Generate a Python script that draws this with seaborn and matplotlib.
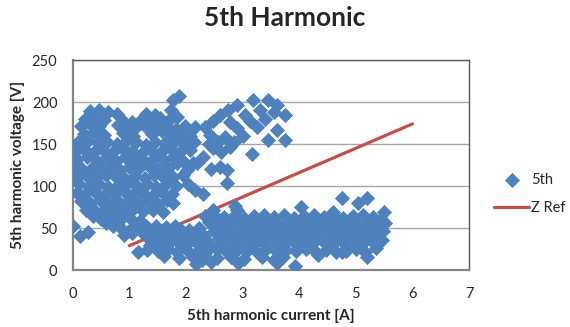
import matplotlib
matplotlib.use("Agg")
import pandas as pd
import seaborn as sns
import matplotlib.pyplot as plt

sns.set_style("white")
plt.rcParams['font.family'] = ['Lato', 'DejaVu Sans']

# (current [A], voltage [V]), grouped by cluster
# big cloud at low current / high voltage
blob_points = [
    (0.30, 189), (0.46, 191), (0.62, 188), (0.78, 186), (1.30, 186), (1.45, 184), (1.74, 191),
    (0.22, 180), (0.38, 182), (0.55, 179), (0.88, 178), (1.05, 176), (1.22, 180), (1.38, 177),
    (1.55, 181), (1.70, 179), (1.85, 182),
    (0.14, 172), (0.30, 174), (0.47, 171), (0.80, 173), (0.97, 170), (1.14, 172), (1.31, 169),
    (1.48, 173), (1.65, 171), (1.82, 168), (1.99, 172), (2.16, 170),
    (0.20, 162), (0.38, 164), (0.55, 161), (0.89, 163), (1.06, 160), (1.40, 162), (1.57, 165),
    (1.74, 161), (1.91, 163), (2.08, 160),
    (0.10, 152), (0.27, 154), (0.44, 151), (0.61, 153), (0.78, 150), (0.95, 154), (1.12, 152),
    (1.29, 149), (1.46, 153), (1.63, 151), (1.80, 154), (1.97, 150), (2.14, 153),
    (0.06, 142), (0.20, 144), (0.37, 141), (0.54, 143), (0.71, 140), (0.88, 144), (1.05, 142),
    (1.22, 139), (1.39, 143), (1.56, 141), (1.73, 144), (1.90, 140), (2.07, 143),
    (0.08, 132), (0.25, 134), (0.42, 131), (0.59, 133), (0.76, 130), (0.93, 134), (1.10, 132),
    (1.27, 129), (1.44, 133), (1.61, 131), (1.78, 134), (1.95, 130),
    (0.00, 124), (0.15, 122), (0.32, 120), (0.49, 123), (0.66, 121), (0.83, 119), (1.00, 123),
    (1.17, 121), (1.34, 124), (1.51, 120), (1.68, 122), (1.85, 127), (2.02, 119),
    (0.00, 113), (0.08, 110), (0.25, 112), (0.42, 109), (0.59, 113), (0.76, 111), (0.93, 108),
    (1.10, 112), (1.27, 110), (1.44, 113), (1.61, 109), (1.78, 111), (1.95, 113),
    (0.12, 102), (0.29, 100), (0.46, 103), (0.63, 99), (0.80, 101), (0.97, 104), (1.14, 100),
    (1.31, 102), (1.48, 99), (1.65, 103), (1.82, 100),
    (0.08, 92), (0.22, 90), (0.39, 93), (0.56, 89), (0.73, 91), (0.90, 94), (1.07, 90),
    (1.24, 92), (1.41, 89), (1.58, 93), (1.75, 90),
    (0.14, 82), (0.31, 80), (0.48, 83), (0.65, 79), (0.82, 81), (0.99, 84), (1.16, 80),
    (1.33, 82), (1.50, 79), (1.67, 83), (1.78, 80),
    (0.24, 72), (0.40, 70), (0.57, 73), (0.74, 69), (0.91, 71), (1.08, 74), (1.25, 70),
    (1.42, 72), (1.60, 69),
    (0.36, 64), (0.50, 61), (0.67, 63), (0.84, 60), (1.01, 62), (1.18, 59),
    (0.00, 52), (0.58, 56), (0.72, 52), (0.88, 48), (1.04, 50), (1.20, 52),
    (0.13, 40), (0.27, 45), (0.90, 42), (1.05, 44),
]

# diagonal strand going up to the right
strand_points = [
    (1.77, 202), (1.87, 207), (2.60, 185), (2.48, 178), (2.43, 161), (2.69, 158), (2.90, 169),
    (2.90, 196), (3.05, 185), (3.13, 178), (3.19, 202), (3.30, 190), (3.40, 180), (3.45, 202),
    (3.55, 188), (3.61, 196), (3.75, 185), (3.61, 167), (3.45, 155), (3.75, 155), (3.25, 170),
    (3.17, 138), (2.78, 176), (3.00, 160), (2.30, 135), (2.48, 145), (2.62, 140), (2.78, 146),
    (2.85, 152), (2.20, 127), (2.60, 123), (2.73, 119), (2.73, 104), (2.56, 152), (2.40, 150),
    (2.33, 170), (2.13, 127), (2.04, 103), (2.16, 95), (2.31, 91), (2.45, 120), (2.75, 190),
]

# low voltage band spread along the current axis
band_points = [
    (2.48, 71), (2.90, 71), (2.87, 76), (4.03, 75), (4.60, 69), (4.76, 86), (5.04, 80),
    (5.20, 86), (5.49, 69),
    (2.33, 64), (2.50, 66), (2.68, 63), (2.86, 65), (3.02, 62), (3.21, 64), (3.38, 66),
    (3.56, 63), (3.73, 65), (3.90, 62), (4.08, 64), (4.26, 66), (4.43, 63), (4.60, 65),
    (4.78, 62), (4.95, 64), (5.13, 66), (5.30, 63), (5.44, 61),
    (1.30, 52), (1.47, 53), (1.64, 51), (1.81, 52), (2.41, 57), (2.59, 55), (2.77, 56),
    (2.94, 58), (3.12, 55), (3.29, 57), (3.47, 56), (3.64, 54), (3.82, 57), (3.99, 55),
    (4.17, 58), (4.34, 56), (4.52, 55), (4.69, 57), (4.87, 56), (5.04, 54), (5.22, 57),
    (5.39, 55), (5.52, 56),
    (1.20, 46), (1.37, 48), (1.55, 45), (1.72, 47), (1.89, 49), (2.06, 48), (2.23, 50),
    (2.50, 47), (2.68, 49), (2.85, 46), (3.03, 48), (3.20, 50), (3.38, 47), (3.55, 49),
    (3.73, 46), (3.91, 48), (4.08, 50), (4.25, 47), (4.43, 49), (4.61, 46), (4.78, 48),
    (4.96, 50), (5.13, 47), (5.31, 49), (5.48, 46),
    (1.29, 41), (1.46, 38), (1.63, 40), (1.81, 42), (1.98, 39), (2.15, 41), (2.32, 40),
    (2.59, 38), (2.76, 41), (2.94, 39), (3.11, 42), (3.29, 40), (3.46, 38), (3.64, 41),
    (3.81, 39), (3.99, 42), (4.16, 40), (4.34, 38), (4.51, 41), (4.69, 39), (4.86, 42),
    (5.04, 40), (5.22, 38), (5.40, 41),
    (1.37, 30), (1.55, 32), (1.72, 34), (1.89, 31), (2.06, 33), (2.23, 30), (2.41, 32),
    (2.68, 34), (2.85, 31), (3.03, 33), (3.20, 30), (3.38, 32), (3.55, 34), (3.73, 31),
    (3.90, 33), (4.08, 30), (4.25, 32), (4.43, 34), (4.60, 31), (4.78, 33), (4.95, 30),
    (5.13, 32), (5.31, 34), (5.46, 36),
    (1.15, 21), (1.32, 24), (1.50, 23), (1.68, 25), (1.85, 22), (2.02, 24), (2.20, 21),
    (2.37, 23), (2.55, 25), (2.72, 22), (2.90, 24), (3.07, 23), (3.25, 21), (3.42, 25),
    (3.60, 22), (3.77, 24), (3.95, 23), (4.12, 25), (4.30, 22), (4.47, 24), (4.65, 21),
    (4.82, 23), (5.00, 25), (5.17, 22), (5.35, 26),
    (1.62, 17), (1.87, 14), (2.12, 15), (2.28, 12), (2.55, 14), (2.80, 16), (3.02, 13),
    (3.34, 15), (3.55, 12), (3.72, 15), (4.34, 18), (4.76, 21), (5.20, 16),
    (2.18, 7), (2.45, 10), (2.92, 9), (3.60, 9), (3.92, 5),
]

zref_current = [1, 6]
zref_voltage = [29, 174]

x_ticks = [0, 1, 2, 3, 4, 5, 6, 7]
y_ticks = [0, 50, 100, 150, 200, 250]

points = blob_points + strand_points + band_points
df = pd.DataFrame(points, columns=["current", "voltage"])

fig = plt.figure(figsize=(5.7, 3.27), dpi=100)
ax = fig.add_axes([0.1275, 0.174, 0.6955, 0.6425])
ax.set_axisbelow(True)
ax.yaxis.grid(True, color="#a6a6a6", linewidth=1)

sns.lineplot(x=zref_current, y=zref_voltage, color="#c0504d", linewidth=2.3,
             ax=ax, label="Z Ref", zorder=2)
sns.scatterplot(data=df, x="current", y="voltage", marker="D", s=60,
                color="#4f81bd", linewidth=0, ax=ax, label="5th", zorder=3)

ax.set_xlim(0, 7)
ax.set_ylim(0, 250)
ax.set_xticks(x_ticks)
ax.set_yticks(y_ticks)
ax.tick_params(axis="both", length=0, labelsize=10.5)
ax.tick_params(axis="y", pad=11)
ax.tick_params(axis="x", pad=12)
ax.set_xlabel("")
ax.set_ylabel("")

for side in ["left", "bottom"]:
    ax.spines[side].set_color("#868686")
    ax.spines[side].set_linewidth(1.6)
for side in ["top", "right"]:
    ax.spines[side].set_color("#595959")
    ax.spines[side].set_linewidth(1)

fig.text(0.5, 0.945, "5th Harmonic", ha="center", va="center",
         fontsize=19, fontweight="bold")
fig.text(0.475, 0.034, "5th harmonic current [A]", ha="center", va="center",
         fontsize=11, fontweight="bold")
fig.text(0.032, 0.495, "5th harmonic voltage [V]", ha="center", va="center",
         rotation=90, fontsize=11, fontweight="bold")

# reorder so the scatter comes first, like the original legend
handles, labels = ax.get_legend_handles_labels()
order = [labels.index("5th"), labels.index("Z Ref")]
ax.legend([handles[i] for i in order], [labels[i] for i in order],
          loc="center left", bbox_to_anchor=(1.03, 0.362), frameon=False,
          fontsize=10.5, handlelength=2.4, labelspacing=1.0, handletextpad=0.15)

fig.savefig("out.png", dpi=100)
